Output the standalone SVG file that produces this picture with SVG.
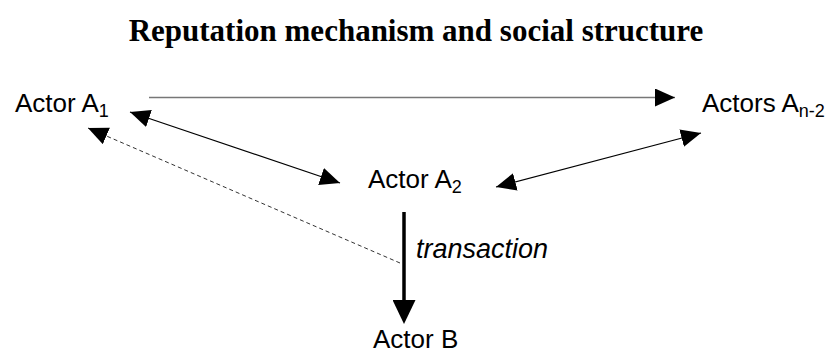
<svg xmlns="http://www.w3.org/2000/svg" width="831" height="358" viewBox="0 0 831 358">
<defs>
<style>
.title{font-family:"Liberation Serif","Times New Roman",serif;font-weight:bold;font-size:31px;fill:#000}
.lbl{font-family:"Liberation Sans",Arial,sans-serif;font-size:26px;fill:#000}
.sub{font-size:18px}
.it{font-style:italic;font-size:27px}
.thin{stroke:#000;stroke-width:1.2;fill:none}
.gray{stroke:#777;stroke-width:1.5;fill:none}
.dash{stroke:#333;stroke-width:1;stroke-dasharray:4 3;fill:none}
.thick{stroke:#000;stroke-width:3.5;fill:none}
</style>
<marker id="ah" markerUnits="userSpaceOnUse" markerWidth="20" markerHeight="18" refX="20" refY="9" orient="auto-start-reverse" viewBox="0 0 20 18">
<path d="M0,0 L20,9 L0,18 z" fill="#000"/>
</marker>
<marker id="ahb" markerUnits="userSpaceOnUse" markerWidth="24" markerHeight="23" refX="0" refY="11.5" orient="auto" viewBox="0 0 24 23">
<path d="M0,0 L24,11.5 L0,23 z" fill="#000"/>
</marker>
</defs>
<rect width="831" height="358" fill="#fff"/>
<text class="title" x="416" y="41" text-anchor="middle">Reputation mechanism and social structure</text>
<g id="connectors">
<line class="gray" x1="149" y1="97.5" x2="675" y2="97.5" marker-end="url(#ah)"/>
<line class="thin" x1="130" y1="112" x2="340" y2="183" marker-start="url(#ah)" marker-end="url(#ah)"/>
<line class="thin" x1="496" y1="187" x2="701" y2="133" marker-start="url(#ah)" marker-end="url(#ah)"/>
<line class="dash" x1="400" y1="263" x2="88" y2="128" marker-end="url(#ah)"/>
<line class="thick" x1="404" y1="212" x2="404" y2="300" marker-end="url(#ahb)"/>
<text class="lbl it" x="416" y="258">transaction</text>
</g>
<g id="actorA1"><text class="lbl" x="15" y="112">Actor A<tspan class="sub" dy="5">1</tspan></text></g>
<g id="actorsAn2"><text class="lbl" x="702" y="112">Actors A<tspan class="sub" dy="5">n-2</tspan></text></g>
<g id="actorA2"><text class="lbl" x="368" y="188">Actor A<tspan class="sub" dy="5">2</tspan></text></g>
<g id="actorB"><text class="lbl" x="373" y="348">Actor B</text></g>
</svg>
